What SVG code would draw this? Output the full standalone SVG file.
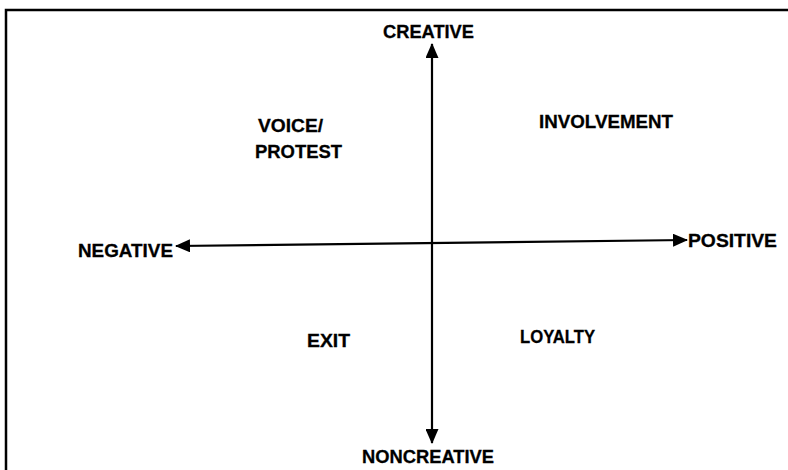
<svg xmlns="http://www.w3.org/2000/svg" width="788" height="470" viewBox="0 0 788 470">
  <style>
    .lbl { font-family: "Liberation Sans", Arial, sans-serif; font-weight: bold; font-size: 19px; fill: #000; stroke: #000; stroke-width: 0.3; }
    .axis { stroke: #000; stroke-width: 2.2; fill: none; }
    .frame { stroke: #000; stroke-width: 2.5; fill: none; }
  </style>
  <defs>
    <marker id="arrow" viewBox="0 0 15 13" refX="14" refY="6.5" markerWidth="15" markerHeight="13" markerUnits="userSpaceOnUse" orient="auto-start-reverse">
      <path d="M0,0 L15,6.5 L0,13 z" fill="#000"/>
    </marker>
  </defs>
  <rect width="788" height="470" fill="#fff"/>
  <path class="frame" d="M6,472 L6,10 L790,10"/>
  <g id="connectors">
    <line id="axis-vertical" class="axis" x1="432" y1="44" x2="432" y2="443" marker-start="url(#arrow)" marker-end="url(#arrow)"/>
    <line id="axis-horizontal" class="axis" x1="176" y1="246" x2="687" y2="240" marker-start="url(#arrow)" marker-end="url(#arrow)"/>
  </g>
  <g id="creative"><text class="lbl" x="383" y="38" textLength="91" lengthAdjust="spacingAndGlyphs">CREATIVE</text></g>
  <g id="noncreative"><text class="lbl" x="362" y="463" textLength="132" lengthAdjust="spacingAndGlyphs">NONCREATIVE</text></g>
  <g id="negative"><text class="lbl" x="78" y="257" textLength="95" lengthAdjust="spacingAndGlyphs">NEGATIVE</text></g>
  <g id="positive"><text class="lbl" x="688" y="247" textLength="89" lengthAdjust="spacingAndGlyphs">POSITIVE</text></g>
  <g id="voice-protest">
    <text class="lbl" x="258" y="132" textLength="65" lengthAdjust="spacingAndGlyphs">VOICE/</text>
    <text class="lbl" x="255" y="158" textLength="87" lengthAdjust="spacingAndGlyphs">PROTEST</text>
  </g>
  <g id="involvement"><text class="lbl" x="539" y="128" textLength="134" lengthAdjust="spacingAndGlyphs">INVOLVEMENT</text></g>
  <g id="exit"><text class="lbl" x="307" y="347" textLength="43" lengthAdjust="spacingAndGlyphs">EXIT</text></g>
  <g id="loyalty"><text class="lbl" x="520" y="343" textLength="75" lengthAdjust="spacingAndGlyphs">LOYALTY</text></g>
</svg>
